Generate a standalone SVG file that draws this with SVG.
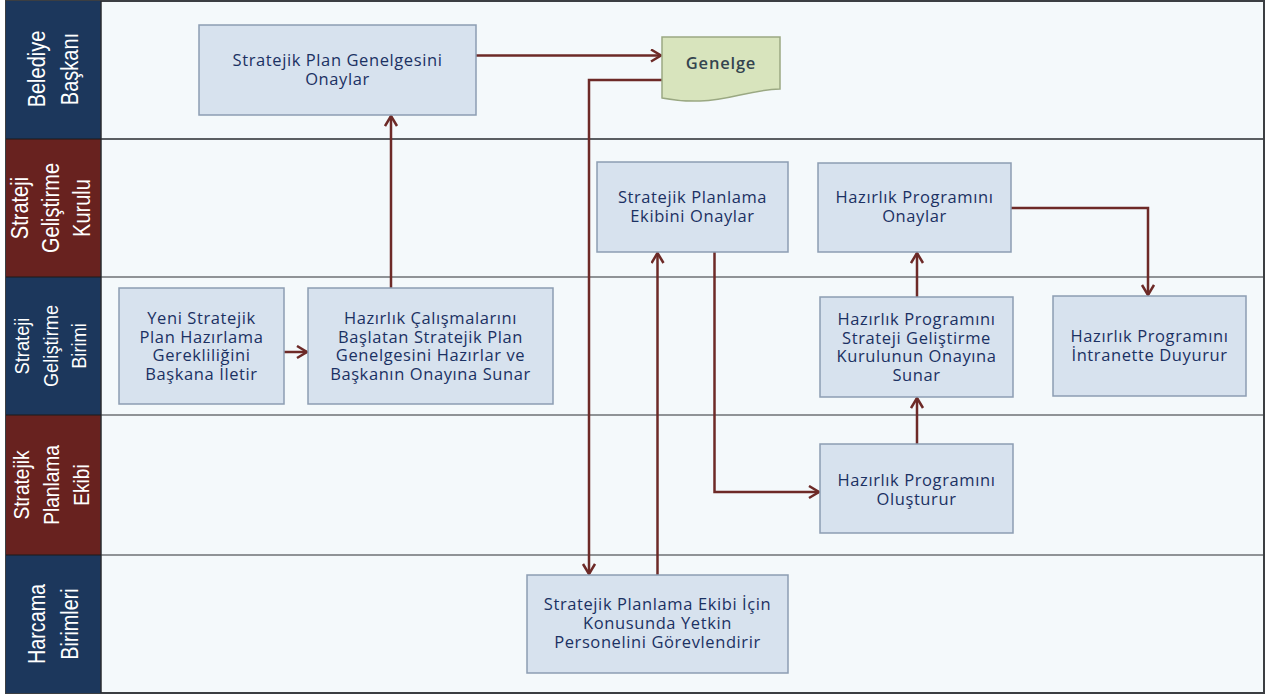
<svg xmlns="http://www.w3.org/2000/svg" width="1266" height="697" viewBox="0 0 1266 697">
<style>
.lane{fill:#f4f9fb}
.sep{stroke:#8f9396;stroke-width:2}
.navy{fill:#1c375c}
.red{fill:#68221f}
.hdr{font-family:"Liberation Sans",Arial,sans-serif;fill:#ffffff;text-anchor:middle}
.box{fill:#d7e2ee;stroke:#8c9db3;stroke-width:1.5}
.nt{font-family:"Open Sans","Noto Sans",sans-serif;font-size:16.5px;letter-spacing:0.6px;fill:#1b3163;text-anchor:middle}
.doc{fill:#d8e4bd;stroke:#9aa882;stroke-width:1.5}
.dt{font-family:"Open Sans","Noto Sans",sans-serif;font-size:16.5px;font-weight:600;letter-spacing:0.8px;fill:#34444f;text-anchor:middle}
.cn{fill:none;stroke:#6d2a27;stroke-width:2.5;marker-end:url(#ah)}
</style>
<defs>
<marker id="ah" markerUnits="userSpaceOnUse" markerWidth="16" markerHeight="16" refX="11" refY="7" orient="auto">
<path d="M1,1 L11,7 L1,13" fill="none" stroke="#6d2a27" stroke-width="2.5"/>
</marker>
</defs>
<rect x="0" y="0" width="1266" height="697" fill="#ffffff"/>
<g id="lanes">
<rect class="lane" x="101" y="1" width="1163" height="692"/>
<line class="sep" x1="101" y1="139" x2="1264" y2="139" style="stroke:#5a5e62"/>
<line class="sep" x1="101" y1="277" x2="1264" y2="277"/>
<line class="sep" x1="101" y1="415" x2="1264" y2="415"/>
<line class="sep" x1="101" y1="555" x2="1264" y2="555"/>
<rect x="6" y="1" width="1258" height="692" fill="none" stroke="#3b3e42" stroke-width="2"/>
</g>
<g id="lane-belediye">
<rect class="navy" x="6" y="1" width="95" height="138"/>
<text class="hdr" font-size="23" transform="translate(53.5,69) rotate(-90) scale(0.87,1)"><tspan x="0" y="-8.5">Belediye</tspan><tspan x="0" y="24.5">Başkanı</tspan></text>
</g>
<g id="lane-kurul">
<rect class="red" x="6" y="139" width="95" height="138"/>
<text class="hdr" font-size="23" transform="translate(53.5,208) rotate(-90) scale(0.87,1)"><tspan x="0" y="-25.5">Strateji</tspan><tspan x="0" y="5.5">Geliştirme</tspan><tspan x="0" y="36.5">Kurulu</tspan></text>
</g>
<g id="lane-birim">
<rect class="navy" x="6" y="277" width="95" height="138"/>
<text class="hdr" font-size="21" transform="translate(53.5,346) rotate(-90) scale(0.87,1)"><tspan x="0" y="-24.5">Strateji</tspan><tspan x="0" y="4">Geliştirme</tspan><tspan x="0" y="32.5">Birimi</tspan></text>
</g>
<g id="lane-ekip">
<rect class="red" x="6" y="415" width="95" height="140"/>
<text class="hdr" font-size="22" transform="translate(53.5,485) rotate(-90) scale(0.87,1)"><tspan x="0" y="-24.5">Stratejik</tspan><tspan x="0" y="5.5">Planlama</tspan><tspan x="0" y="35.5">Ekibi</tspan></text>
</g>
<g id="lane-harcama">
<rect class="navy" x="6" y="555" width="95" height="138"/>
<text class="hdr" font-size="23" transform="translate(53.5,624) rotate(-90) scale(0.86,1)"><tspan x="0" y="-8.5">Harcama</tspan><tspan x="0" y="24.5">Birimleri</tspan></text>
</g>
<line x1="101" y1="1" x2="101" y2="693" stroke="#2a2d30" stroke-width="1.5"/>
<line x1="6" y1="139" x2="101" y2="139" stroke="#1a1a1a" stroke-width="1"/>
<line x1="6" y1="277" x2="101" y2="277" stroke="#1a1a1a" stroke-width="1"/>
<line x1="6" y1="415" x2="101" y2="415" stroke="#1a1a1a" stroke-width="1"/>
<line x1="6" y1="555" x2="101" y2="555" stroke="#1a1a1a" stroke-width="1"/>

<g id="connectors">
<path class="cn" d="M391,288 V116"/>
<path class="cn" d="M476,55.5 H661"/>
<path class="cn" d="M662,80 H589 V574"/>
<path class="cn" d="M657.5,575 V253"/>
<path class="cn" d="M714.5,252 V492 H819"/>
<path class="cn" d="M917,444 V398"/>
<path class="cn" d="M917,297 V253"/>
<path class="cn" d="M1011,208 H1148 V295"/>
<path class="cn" d="M284,352 H307"/>
</g>

<g id="n1">
<rect class="box" x="199" y="25" width="277" height="90"/>
<text class="nt"><tspan x="337.5" y="66">Stratejik Plan Genelgesini</tspan><tspan x="337.5" y="84.5">Onaylar</tspan></text>
</g>
<g id="n2">
<path class="doc" d="M662,37 H780 V89 C748,90 732,100 700,101 C684,101.5 672,100 662,98 Z"/>
<text class="dt" x="721" y="69">Genelge</text>
</g>
<g id="n3">
<rect class="box" x="597" y="162" width="191" height="90"/>
<text class="nt"><tspan x="692.5" y="203">Stratejik Planlama</tspan><tspan x="692.5" y="221.5">Ekibini Onaylar</tspan></text>
</g>
<g id="n4">
<rect class="box" x="818" y="163" width="193" height="89"/>
<text class="nt"><tspan x="914.5" y="203">Hazırlık Programını</tspan><tspan x="914.5" y="221.5">Onaylar</tspan></text>
</g>
<g id="n5">
<rect class="box" x="119" y="288" width="165" height="116"/>
<text class="nt"><tspan x="201.5" y="324">Yeni Stratejik</tspan><tspan x="201.5" y="342.5">Plan Hazırlama</tspan><tspan x="201.5" y="361">Gerekliliğini</tspan><tspan x="201.5" y="379.5">Başkana İletir</tspan></text>
</g>
<g id="n6">
<rect class="box" x="308" y="288" width="245" height="116"/>
<text class="nt"><tspan x="430.5" y="324">Hazırlık Çalışmalarını</tspan><tspan x="430.5" y="342.5">Başlatan Stratejik Plan</tspan><tspan x="430.5" y="361">Genelgesini Hazırlar ve</tspan><tspan x="430.5" y="379.5">Başkanın Onayına Sunar</tspan></text>
</g>
<g id="n7">
<rect class="box" x="820" y="297" width="193" height="100"/>
<text class="nt"><tspan x="916.5" y="325">Hazırlık Programını</tspan><tspan x="916.5" y="343.5">Strateji Geliştirme</tspan><tspan x="916.5" y="362">Kurulunun Onayına</tspan><tspan x="916.5" y="380.5">Sunar</tspan></text>
</g>
<g id="n8">
<rect class="box" x="1053" y="296" width="193" height="100"/>
<text class="nt"><tspan x="1149.5" y="342">Hazırlık Programını</tspan><tspan x="1149.5" y="361">İntranette Duyurur</tspan></text>
</g>
<g id="n9">
<rect class="box" x="820" y="444" width="193" height="89"/>
<text class="nt"><tspan x="916.5" y="486">Hazırlık Programını</tspan><tspan x="916.5" y="504.5">Oluşturur</tspan></text>
</g>
<g id="n10">
<rect class="box" x="527" y="575" width="261" height="98"/>
<text class="nt"><tspan x="657.5" y="610">Stratejik Planlama Ekibi İçin</tspan><tspan x="657.5" y="629">Konusunda Yetkin</tspan><tspan x="657.5" y="648">Personelini Görevlendirir</tspan></text>
</g>
</svg>
